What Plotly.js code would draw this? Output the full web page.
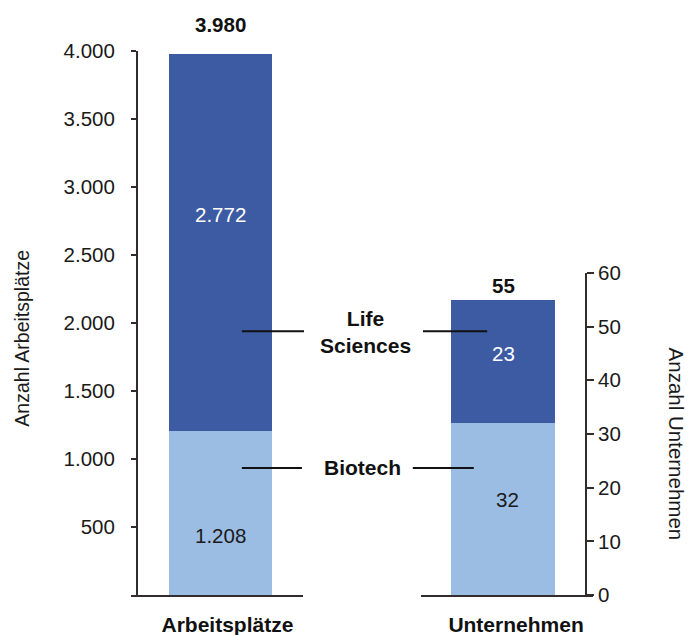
<!DOCTYPE html>
<html>
<head>
<meta charset="utf-8">
<script src="https://cdn.plot.ly/plotly-3.0.1.min.js"></script>
<style>html,body{margin:0;padding:0;background:#fff;}#chart{width:688px;height:635px;}</style>
</head>
<body>
<div id="chart"></div>
<script>
const categories = ['Arbeitsplätze', 'Unternehmen'];
const seriesNames = ['Biotech', 'Life Sciences'];
const biotech = [1208, 32];
const lifeSciences = [2772, 23];
const leftTicks = [500, 1000, 1500, 2000, 2500, 3000, 3500, 4000];
const rightTicks = [0, 10, 20, 30, 40, 50, 60];

const fmt = n => String(n).replace(/\B(?=(\d{3})+(?!\d))/g, '.');
const totals = biotech.map((b, i) => b + lifeSciences[i]);

const FONT = '"Liberation Sans", Arial, Helvetica, sans-serif';
const dark = '#3d5ba3';
const light = '#9bbde3';
const axisColor = '#332c2c';

const traces = [
  {type: 'bar', name: seriesNames[0], x: [categories[0]], y: [biotech[0]], xaxis: 'x', yaxis: 'y', marker: {color: light}, width: 0.6, hoverinfo: 'none'},
  {type: 'bar', name: seriesNames[1], x: [categories[0]], y: [lifeSciences[0]], xaxis: 'x', yaxis: 'y', marker: {color: dark}, width: 0.6, hoverinfo: 'none'},
  {type: 'bar', name: seriesNames[0], x: [categories[1]], y: [biotech[1]], xaxis: 'x2', yaxis: 'y2', marker: {color: light}, width: 0.605, hoverinfo: 'none'},
  {type: 'bar', name: seriesNames[1], x: [categories[1]], y: [lifeSciences[1]], xaxis: 'x2', yaxis: 'y2', marker: {color: dark}, width: 0.605, hoverinfo: 'none'}
];

const C = {xanchor: 'center', yanchor: 'middle', showarrow: false};
const annotations = [
  // totals
  Object.assign({xref: 'x', yref: 'y', x: categories[0], y: totals[0], text: fmt(totals[0]), yshift: 29, font: {family: FONT, size: 20.5, color: '#111', weight: 'bold'}}, C),
  Object.assign({xref: 'x2', yref: 'y2', x: categories[1], y: totals[1], text: fmt(totals[1]), yshift: 14, font: {family: FONT, size: 20.5, color: '#111', weight: 'bold'}}, C),
  // segment values
  Object.assign({xref: 'x', yref: 'y', x: categories[0], y: biotech[0] + lifeSciences[0] / 2, text: fmt(lifeSciences[0]), yshift: 28, font: {family: FONT, size: 20.5, color: '#ffffff'}}, C),
  Object.assign({xref: 'x', yref: 'y', x: categories[0], y: biotech[0] / 2, text: fmt(biotech[0]), yshift: -23, font: {family: FONT, size: 20.5, color: '#1a1a1a'}}, C),
  Object.assign({xref: 'x2', yref: 'y2', x: categories[1], y: biotech[1] + lifeSciences[1] / 2, text: fmt(lifeSciences[1]), yshift: 8, font: {family: FONT, size: 20.5, color: '#ffffff'}}, C),
  Object.assign({xref: 'x2', yref: 'y2', x: categories[1], y: biotech[1] / 2, text: fmt(biotech[1]), yshift: 10, xshift: 4, font: {family: FONT, size: 20.5, color: '#1a1a1a'}}, C),
  // series labels
  Object.assign({xref: 'paper', yref: 'paper', x: 0.5065, y: 0.483, text: 'Life<br>Sciences', font: {family: FONT, size: 21, color: '#111', weight: 'bold'}}, C),
  Object.assign({xref: 'paper', yref: 'paper', x: 0.502, y: 0.2335, text: seriesNames[0], font: {family: FONT, size: 21, color: '#111', weight: 'bold'}}, C),
  // axis titles
  Object.assign({xref: 'paper', yref: 'paper', x: -0.236, y: 0.473, text: 'Anzahl Arbeitsplätze', textangle: -90, font: {family: FONT, size: 19.5, color: '#1a1a1a'}}, C),
  Object.assign({xref: 'paper', yref: 'paper', x: 1.18, y: 0.278, text: 'Anzahl Unternehmen', textangle: 90, font: {family: FONT, size: 20.5, color: '#1a1a1a'}}, C)
];

const lineStyle = {color: '#111', width: 2};
const shapes = [
  {type: 'line', xref: 'paper', yref: 'paper', x0: 0.240, x1: 0.3745, y0: 0.485, y1: 0.485, line: lineStyle},
  {type: 'line', xref: 'paper', yref: 'paper', x0: 0.632, x1: 0.771, y0: 0.485, y1: 0.485, line: lineStyle},
  {type: 'line', xref: 'paper', yref: 'paper', x0: 0.240, x1: 0.370, y0: 0.2335, y1: 0.2335, line: lineStyle},
  {type: 'line', xref: 'paper', yref: 'paper', x0: 0.610, x1: 0.742, y0: 0.2335, y1: 0.2335, line: lineStyle}
];

const layout = {
  width: 688, height: 635,
  margin: {l: 131, r: 95, t: 51, b: 40, pad: 0},
  paper_bgcolor: '#ffffff', plot_bgcolor: '#ffffff',
  barmode: 'stack', showlegend: false,
  separators: ',.',
  font: {family: FONT, size: 20, color: '#1a1a1a'},
  xaxis: {domain: [0, 0.3723], anchor: 'y', range: [-0.52, 0.48], showline: true, linecolor: axisColor, linewidth: 2,
          ticks: '', showgrid: false, zeroline: false, fixedrange: true,
          tickfont: {family: FONT, size: 21, color: '#111', weight: 'bold'}, ticklabelstandoff: 10, ticklabelshift: 7},
  xaxis2: {domain: [0.6277, 1], anchor: 'y2', range: [-0.477, 0.523], showline: true, linecolor: axisColor, linewidth: 2,
           ticks: '', showgrid: false, zeroline: false, fixedrange: true,
           tickfont: {family: FONT, size: 21, color: '#111', weight: 'bold'}, ticklabelstandoff: 10, ticklabelshift: 13},
  yaxis: {domain: [0, 1], range: [0, 4000], anchor: 'free', position: 0.013, side: 'left',
          showline: true, linecolor: axisColor, linewidth: 2, ticks: 'outside', ticklen: 5, tickwidth: 2, tickcolor: axisColor,
          tickvals: leftTicks, ticktext: leftTicks.map(fmt), showgrid: false, zeroline: false, fixedrange: true,
          tickfont: {family: FONT, size: 20.5, color: '#1a1a1a'}, ticklabelstandoff: 12},
  yaxis2: {domain: [0, 0.592], range: [0, 60], anchor: 'free', position: 0.9848, side: 'right',
           showline: true, linecolor: axisColor, linewidth: 2, ticks: 'outside', ticklen: 7, tickwidth: 2, tickcolor: axisColor,
           tickvals: rightTicks, ticktext: rightTicks.map(fmt), showgrid: false, zeroline: false, fixedrange: true,
           tickfont: {family: FONT, size: 20.5, color: '#1a1a1a'}, ticklabelstandoff: 0},
  annotations: annotations,
  shapes: shapes
};

Plotly.newPlot('chart', traces, layout, {displayModeBar: false, staticPlot: true});
</script>
</body>
</html>
